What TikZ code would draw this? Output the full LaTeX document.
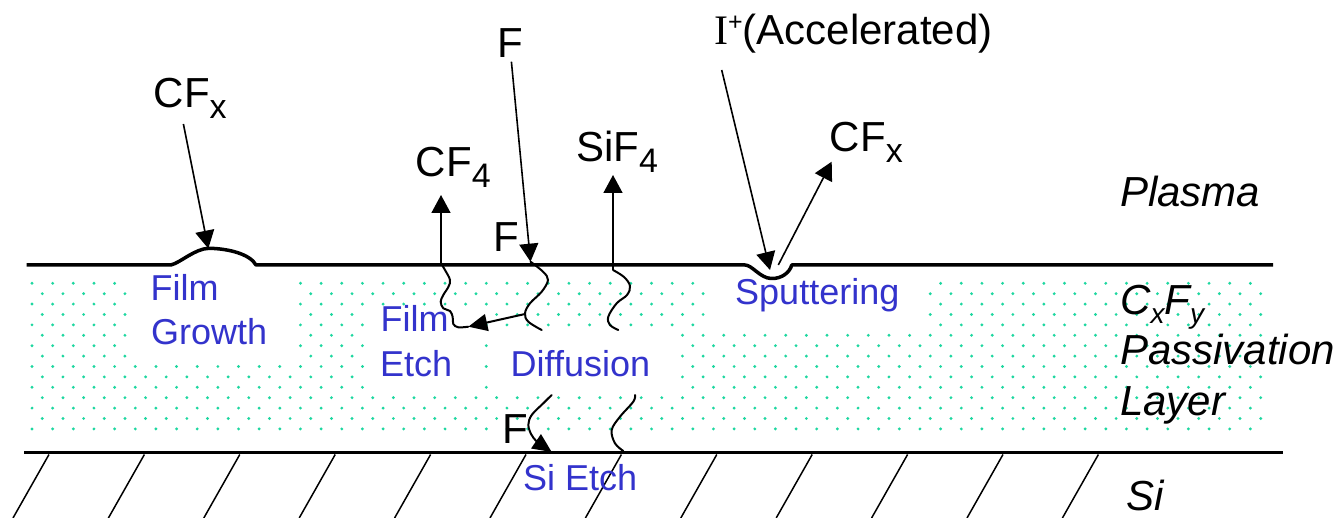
\documentclass[tikz,border=0pt]{standalone}
\usepackage{fontspec}
\setmainfont{Liberation Sans}
\newfontfamily\serifI{Liberation Serif}
\usetikzlibrary{arrows.meta}
\definecolor{dotcol}{RGB}{30,215,160}
\definecolor{lblblue}{RGB}{51,51,204}
\newcommand\fsBlack{\fontsize{42}{48}\selectfont}
\newcommand\fsBlue{\fontsize{36}{44}\selectfont}
\newcommand\lowsub[2][11]{\raisebox{-#1pt}{\fontsize{34}{34}\selectfont #2}}
\newcommand\itsub[1]{\raisebox{-9pt}{\fontsize{28}{28}\selectfont #1}}
\begin{document}
\begin{tikzpicture}[x=1pt,y=-1pt,
  blacktxt/.style={anchor=base west,inner sep=0pt,font=\fsBlack},
  bluetxt/.style={anchor=base west,inner sep=0pt,font=\fsBlue,text=lblblue},
  itxt/.style={anchor=base west,inner sep=0pt,font=\fsBlack\itshape},
  surf/.style={line width=3.5pt,line join=round},
  ray/.style={line width=1.6pt,-{Triangle[length=18pt,width=19pt]}},
  wig/.style={line width=2pt,line cap=round},
  wigarrow/.style={line width=2pt,-{Triangle[length=19pt,width=17pt]}},
  hatchline/.style={line width=1.5pt},
  patch/.style={fill=white}]
\useasboundingbox (0,0) rectangle (1341,518);
% dotted passivation layer
\foreach \r in {0,...,14}{
  \pgfmathsetmacro\yy{283.3+10.4*\r}
  \pgfmathsetmacro\xs{32+10.3*mod(\r,2)}
  \foreach \c in {0,...,59}{
    \fill[dotcol] ({\xs+20.65*\c},\yy) circle (1.6pt);
  }
}
% white label patches
\fill[patch] (127,270) rectangle (295,361);
\fill[patch] (366,307) rectangle (479,392);
\fill[patch] (489,330) rectangle (677,392);
\fill[patch] (711,270) rectangle (922,330);
% silicon hatching
\foreach \k in {0,...,11}
  \draw[hatchline] ({49+95.4*\k},454.5) -- ({13+95.4*\k},518);
% surfaces
\draw[surf] (26.7,265) -- (170.8,265)
  .. controls (180,263) and (195,248.5) .. (209,248.3)
  .. controls (228,248.5) and (250,254) .. (256,265)
  -- (745,265)
  .. controls (752,265) and (760,278) .. (771,278.5)
  .. controls (782,279) and (790,272) .. (791.7,265)
  -- (1273,265);
\draw[surf] (24,452.7) -- (1283,452.7);
% coordinates
\coordinate (bumpPeak) at (208.3,248.6);
\coordinate (cfxLtail) at (183.4,124);
\coordinate (cf4foot) at (441,263.3);
\coordinate (cf4tip) at (441,195);
\coordinate (fTail) at (511.4,61.7);
\coordinate (fHit) at (530.5,261.7);
\coordinate (fBranch) at (525,314);
\coordinate (etchTip) at (468.3,326.7);
\coordinate (sif4foot) at (613,270);
\coordinate (sif4tip) at (613,175);
\coordinate (ionTail) at (721.7,70);
\coordinate (dent) at (770,270);
\coordinate (sputFoot) at (778.3,265);
\coordinate (sputTip) at (831.7,161.7);
% text labels
\node[blacktxt] (cfxL) at (153.5,107.3) {CF\lowsub{x}};
\node[blacktxt] (cf4) at (415.6,176.7) {CF\lowsub{4}};
\node[blacktxt] (fTop) at (497,58) {F};
\node[blacktxt] (fSurf) at (493,252) {F};
\node[blacktxt] (sif4) at (576,161.7) {SiF\lowsub{4}};
\node[blacktxt] (ion) at (714,45) {{\serifI I}\raisebox{14pt}{\fontsize{25}{25}\selectfont +}(Accelerated)};
\node[blacktxt] (cfxR) at (829.7,151.7) {CF\lowsub{x}};
\node[blacktxt] (fBot) at (502,443.3) {F};
\node[itxt] (plasma) at (1120,206.7) {Plasma};
\node[itxt] (cxfy) at (1120,315) {C\itsub{x}F\itsub{y}};
\node[itxt] (passiv) at (1120,365) {Passivation};
\node[itxt] (layer) at (1120,415) {Layer};
\node[itxt] (si) at (1126,510) {Si};
\node[bluetxt] (film1) at (150.5,301) {Film};
\node[bluetxt] (growth) at (151,345) {Growth};
\node[bluetxt] (film2) at (380.5,331.7) {Film};
\node[bluetxt] (etch1) at (380,376.7) {Etch};
\node[bluetxt] (diff) at (510.5,376.7) {Diffusion};
\node[bluetxt] (sietch) at (523,490) {Si Etch};
\node[bluetxt] (sputter) at (735,305) {Sputtering};
% arrows in plasma
\draw[ray] (cfxLtail) -- (bumpPeak);
\draw[ray] (cf4foot) -- (cf4tip);
\draw[ray] (fTail) -- (fHit);
\draw[ray] (sif4foot) -- (sif4tip);
\draw[ray] (ionTail) -- (dent);
\draw[ray] (sputFoot) -- (sputTip);
% wiggly diffusion paths
\draw[wig] plot[smooth,tension=0.6] coordinates {(441,263.3) (445,270) (450,280) (448.3,287) (443.3,295) (440.7,301.7) (443.3,308.3) (450,311) (452.7,317) (453.3,324) (458.3,327.3) (etchTip)};
\draw[wig] plot[smooth,tension=0.6] coordinates {(fHit) (543,271.7) (548,280) (541.7,291.7) (530,303.3) (525,313.3) (528.3,321.7) (541.7,330)};
\draw[wigarrow] (fBranch) -- (etchTip);
\draw[wig] plot[smooth,tension=0.6] coordinates {(sif4foot) (624,277) (630,286) (627,295) (616.7,303.3) (608.3,316.7) (610,325) (618.3,330)};
\draw[wig] plot[smooth,tension=0.6] coordinates {(551.7,395) (543.3,403.3) (531.7,415) (528.3,425) (531,434)};
\draw[wigarrow] (531,434) .. controls (534,440) and (540,444) .. (551.7,452);
\draw[wig] plot[smooth,tension=0.6] coordinates {(635,395) (633.3,401.7) (620,416.7) (611.7,430) (615,443.3) (623.3,451)};
\end{tikzpicture}
\end{document}
